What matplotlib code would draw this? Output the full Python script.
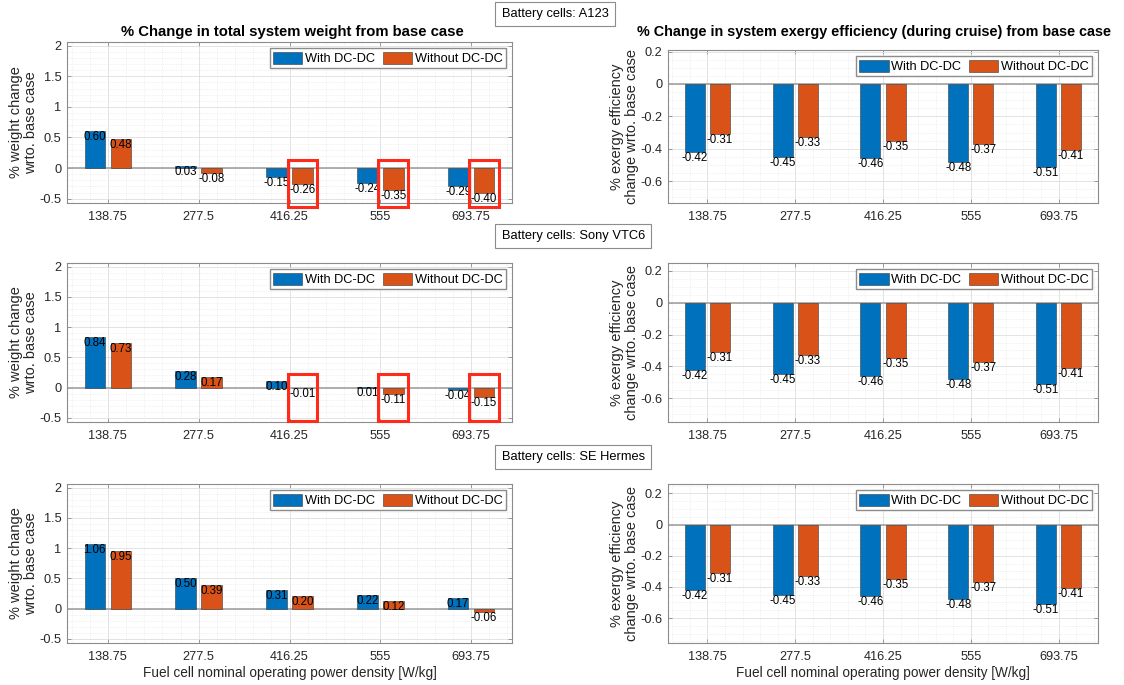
import matplotlib
matplotlib.use('Agg')
import matplotlib.pyplot as plt
from matplotlib.patches import Rectangle
from matplotlib.ticker import MultipleLocator, FuncFormatter
import numpy as np

plt.rcParams['font.family'] = ['Liberation Sans', 'DejaVu Sans']

# --- data ---
fc_density = [138.75, 277.5, 416.25, 555, 693.75]
tick_labels = ['138.75', '277.5', '416.25', '555', '693.75']
series_names = ['With DC-DC', 'Without DC-DC']
cell_names = ['A123', 'Sony VTC6', 'SE Hermes']

weight_a123_with = [0.60, 0.03, -0.15, -0.24, -0.29]
weight_a123_without = [0.48, -0.08, -0.26, -0.35, -0.40]
weight_sony_with = [0.84, 0.28, 0.10, 0.01, -0.04]
weight_sony_without = [0.73, 0.17, -0.01, -0.11, -0.15]
weight_hermes_with = [1.06, 0.50, 0.31, 0.22, 0.17]
weight_hermes_without = [0.95, 0.39, 0.20, 0.12, -0.06]

exergy_with = [-0.42, -0.45, -0.46, -0.48, -0.51]
exergy_without = [-0.31, -0.33, -0.35, -0.37, -0.41]

# orange bars boxed in red (rows A123 and Sony VTC6)
highlight_idx = [2, 3, 4]

weight_rows = [
    (weight_a123_with, weight_a123_without),
    (weight_sony_with, weight_sony_without),
    (weight_hermes_with, weight_hermes_without),
]

BLUE = '#0072BD'
ORANGE = '#D95319'
TXT = '#262626'
FRAME = '#8c8c8c'

W, H = 1124, 685
fig = plt.figure(figsize=(W / 100, H / 100), dpi=100)
fig.patch.set_facecolor('white')


def px_axes(x0, y0, x1, y1):
    return fig.add_axes([x0 / W, 1 - y1 / H, (x1 - x0) / W, (y1 - y0) / H])


step = fc_density[1] - fc_density[0]
offset = 0.143 * step
bar_w = 0.228 * step
fmt_g = FuncFormatter(lambda v, p: f'{v:g}' if abs(v) > 1e-9 else '0')


def draw_bars(ax, with_vals, without_vals, ylim, ymajor, yminor):
    x = np.array(fc_density)
    b1 = ax.bar(x - offset, with_vals, bar_w, color=BLUE, edgecolor='#3a3a3a',
                linewidth=0.4, zorder=3, label=series_names[0])
    b2 = ax.bar(x + offset, without_vals, bar_w, color=ORANGE, edgecolor='#3a3a3a',
                linewidth=0.4, zorder=3, label=series_names[1])
    for xi, v in zip(x - offset, with_vals):
        ax.text(xi, v, f'{v:.2f}', ha='center', va='top', fontsize=8.3,
                color='black', zorder=5)
    for xi, v in zip(x + offset, without_vals):
        ax.text(xi, v, f'{v:.2f}', ha='center', va='top', fontsize=8.3,
                color='black', zorder=5)
    ax.axhline(0, color='#a8a8a8', lw=1.3, zorder=2)

    ax.set_xlim(0.55 * step, 5.45 * step)
    ax.set_ylim(*ylim)
    ax.set_xticks(fc_density)
    ax.set_xticklabels(tick_labels)
    ax.yaxis.set_major_locator(MultipleLocator(ymajor))
    ax.yaxis.set_major_formatter(fmt_g)
    ax.yaxis.set_minor_locator(MultipleLocator(yminor))
    ax.xaxis.set_minor_locator(MultipleLocator(step / 5))
    ax.grid(which='major', color='#dedede', lw=0.6, zorder=0)
    ax.grid(which='minor', color='#e4e4e4', lw=0.5, ls=':', zorder=0)
    ax.set_axisbelow(True)
    ax.tick_params(which='major', direction='in', top=True, right=True,
                   length=3, width=0.6, color=FRAME, labelsize=9.2,
                   labelcolor=TXT)
    ax.tick_params(axis='x', pad=6)
    ax.tick_params(axis='y', pad=4)
    ax.tick_params(which='minor', length=0)
    for s in ax.spines.values():
        s.set_color(FRAME)
        s.set_linewidth(0.8)
    ax.legend(handles=[b1, b2], loc='upper right', ncol=2, fontsize=9.2,
              frameon=True, fancybox=False, edgecolor=FRAME, framealpha=1,
              handlelength=2.3, handleheight=1.1, handletextpad=0.2,
              columnspacing=0.6, borderpad=0.25, borderaxespad=0.5)
    return ax


# axes rectangles in pixels (x0, y0, x1, y1)
left_boxes = [(67, 42, 512, 203), (67, 263, 512, 422), (67, 484, 512, 643)]
right_boxes = [(668, 50, 1098, 203), (668, 263, 1098, 422), (668, 484, 1098, 643)]
right_ylims = [(-0.735, 0.21), (-0.75, 0.25), (-0.76, 0.26)]
red_box_y = [(0.13, -0.64), (0.23, -0.56)]
label_y = [14, 236, 457]

for r in range(3):
    axl = px_axes(*left_boxes[r])
    draw_bars(axl, weight_rows[r][0], weight_rows[r][1], (-0.57, 2.06), 0.5, 0.1)
    axl.set_ylabel('% weight change\nwrto. base case', fontsize=10.5, color=TXT,
                   labelpad=1, linespacing=1.05)

    axr = px_axes(*right_boxes[r])
    draw_bars(axr, exergy_with, exergy_without, right_ylims[r], 0.2, 0.05)
    axr.set_ylabel('% exergy efficiency\nchange wrto. base case', fontsize=10.5,
                   color=TXT, labelpad=1, linespacing=1.05)

    if r < 2:
        top, bot = red_box_y[r]
        for i in highlight_idx:
            xc = fc_density[i] + offset
            axl.add_patch(Rectangle((xc - 0.165 * step, bot), 0.33 * step, top - bot,
                                    fill=False, edgecolor='#ff2a1a', lw=2.2,
                                    clip_on=False, zorder=6))
    if r == 2:
        for ax in (axl, axr):
            ax.set_xlabel('Fuel cell nominal operating power density [W/kg]',
                          fontsize=9.8, color=TXT, labelpad=2)

    fig.text(495 / W + 0.006, 1 - label_y[r] / H, f'Battery cells: {cell_names[r]}',
             ha='left', va='center', fontsize=9.3, color='black',
             bbox=dict(boxstyle='square,pad=0.5', fc='white', ec=FRAME, lw=0.8))

fig.text(292 / W, 1 - 32 / H, '% Change in total system weight from base case',
         ha='center', va='center', fontsize=10.7, fontweight='bold', color='black')
fig.text(874 / W, 1 - 32 / H,
         '% Change in system exergy efficiency (during cruise) from base case',
         ha='center', va='center', fontsize=10.4, fontweight='bold', color='black')

fig.savefig('out.png', dpi=100, facecolor='white')
